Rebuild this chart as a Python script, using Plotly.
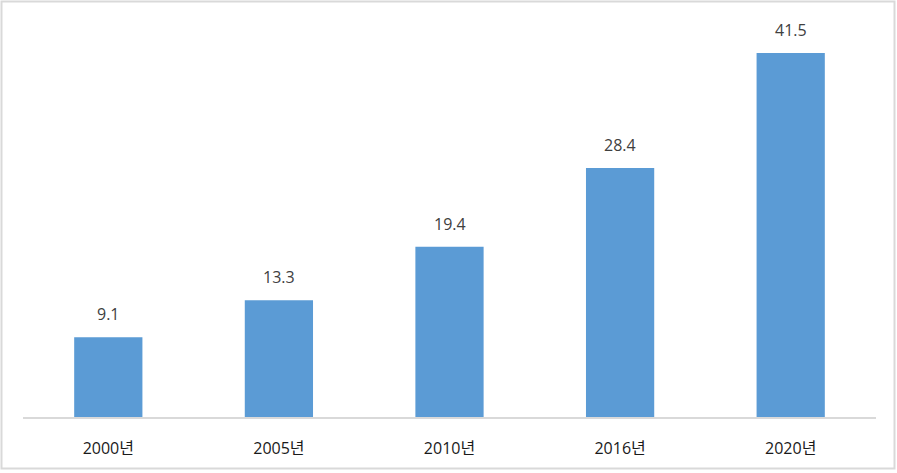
import plotly.graph_objects as go

categories = ["2000년", "2005년", "2010년", "2016년", "2020년"]
values = [9.1, 13.3, 19.4, 28.4, 41.5]
labels = ["9.1", "13.3", "19.4", "28.4", "41.5"]

W, H = 897, 473
L, R, T, B = 23, 21, 20, 56
pw, ph = W - L - R, H - T - B
FONT = "Open Sans, Noto Sans CJK KR"

fig = go.Figure()
fig.add_trace(go.Bar(x=categories, y=values, marker=dict(color="#5b9bd5", line=dict(width=0)),
                     hoverinfo="skip"))

for c, v, t in zip(categories, values, labels):
    fig.add_annotation(x=c, y=v, text=t, showarrow=False, yanchor="bottom", yshift=10,
                       font=dict(size=16, color="#404040", family=FONT))

def px(x):
    return (x - L) / pw

def py(y):
    return (H - B - y) / ph

fig.add_shape(type="rect", xref="paper", yref="paper",
              x0=px(1.5), x1=px(894.5), y0=py(1.5), y1=py(468.5),
              line=dict(color="#d9d9d9", width=2), fillcolor="rgba(0,0,0,0)", layer="below")

fig.update_layout(
    width=W, height=H,
    margin=dict(l=L, r=R, t=T, b=B, pad=0),
    paper_bgcolor="white", plot_bgcolor="white",
    bargap=0.6, showlegend=False,
    font=dict(family=FONT, size=16, color="#262626"),
    xaxis=dict(showline=True, linecolor="#d9d9d9", linewidth=1.5, showgrid=False,
               ticks="", ticklabelstandoff=16, tickfont=dict(size=16, color="#1a1a1a"),
               fixedrange=True),
    yaxis=dict(range=[0, ph / (364 / 41.5)], visible=False, showgrid=False, zeroline=False,
               fixedrange=True),
)

fig.write_html("out.html", config={"displayModeBar": False},
               post_script="document.body.style.margin='0';document.body.style.overflow='hidden';")
